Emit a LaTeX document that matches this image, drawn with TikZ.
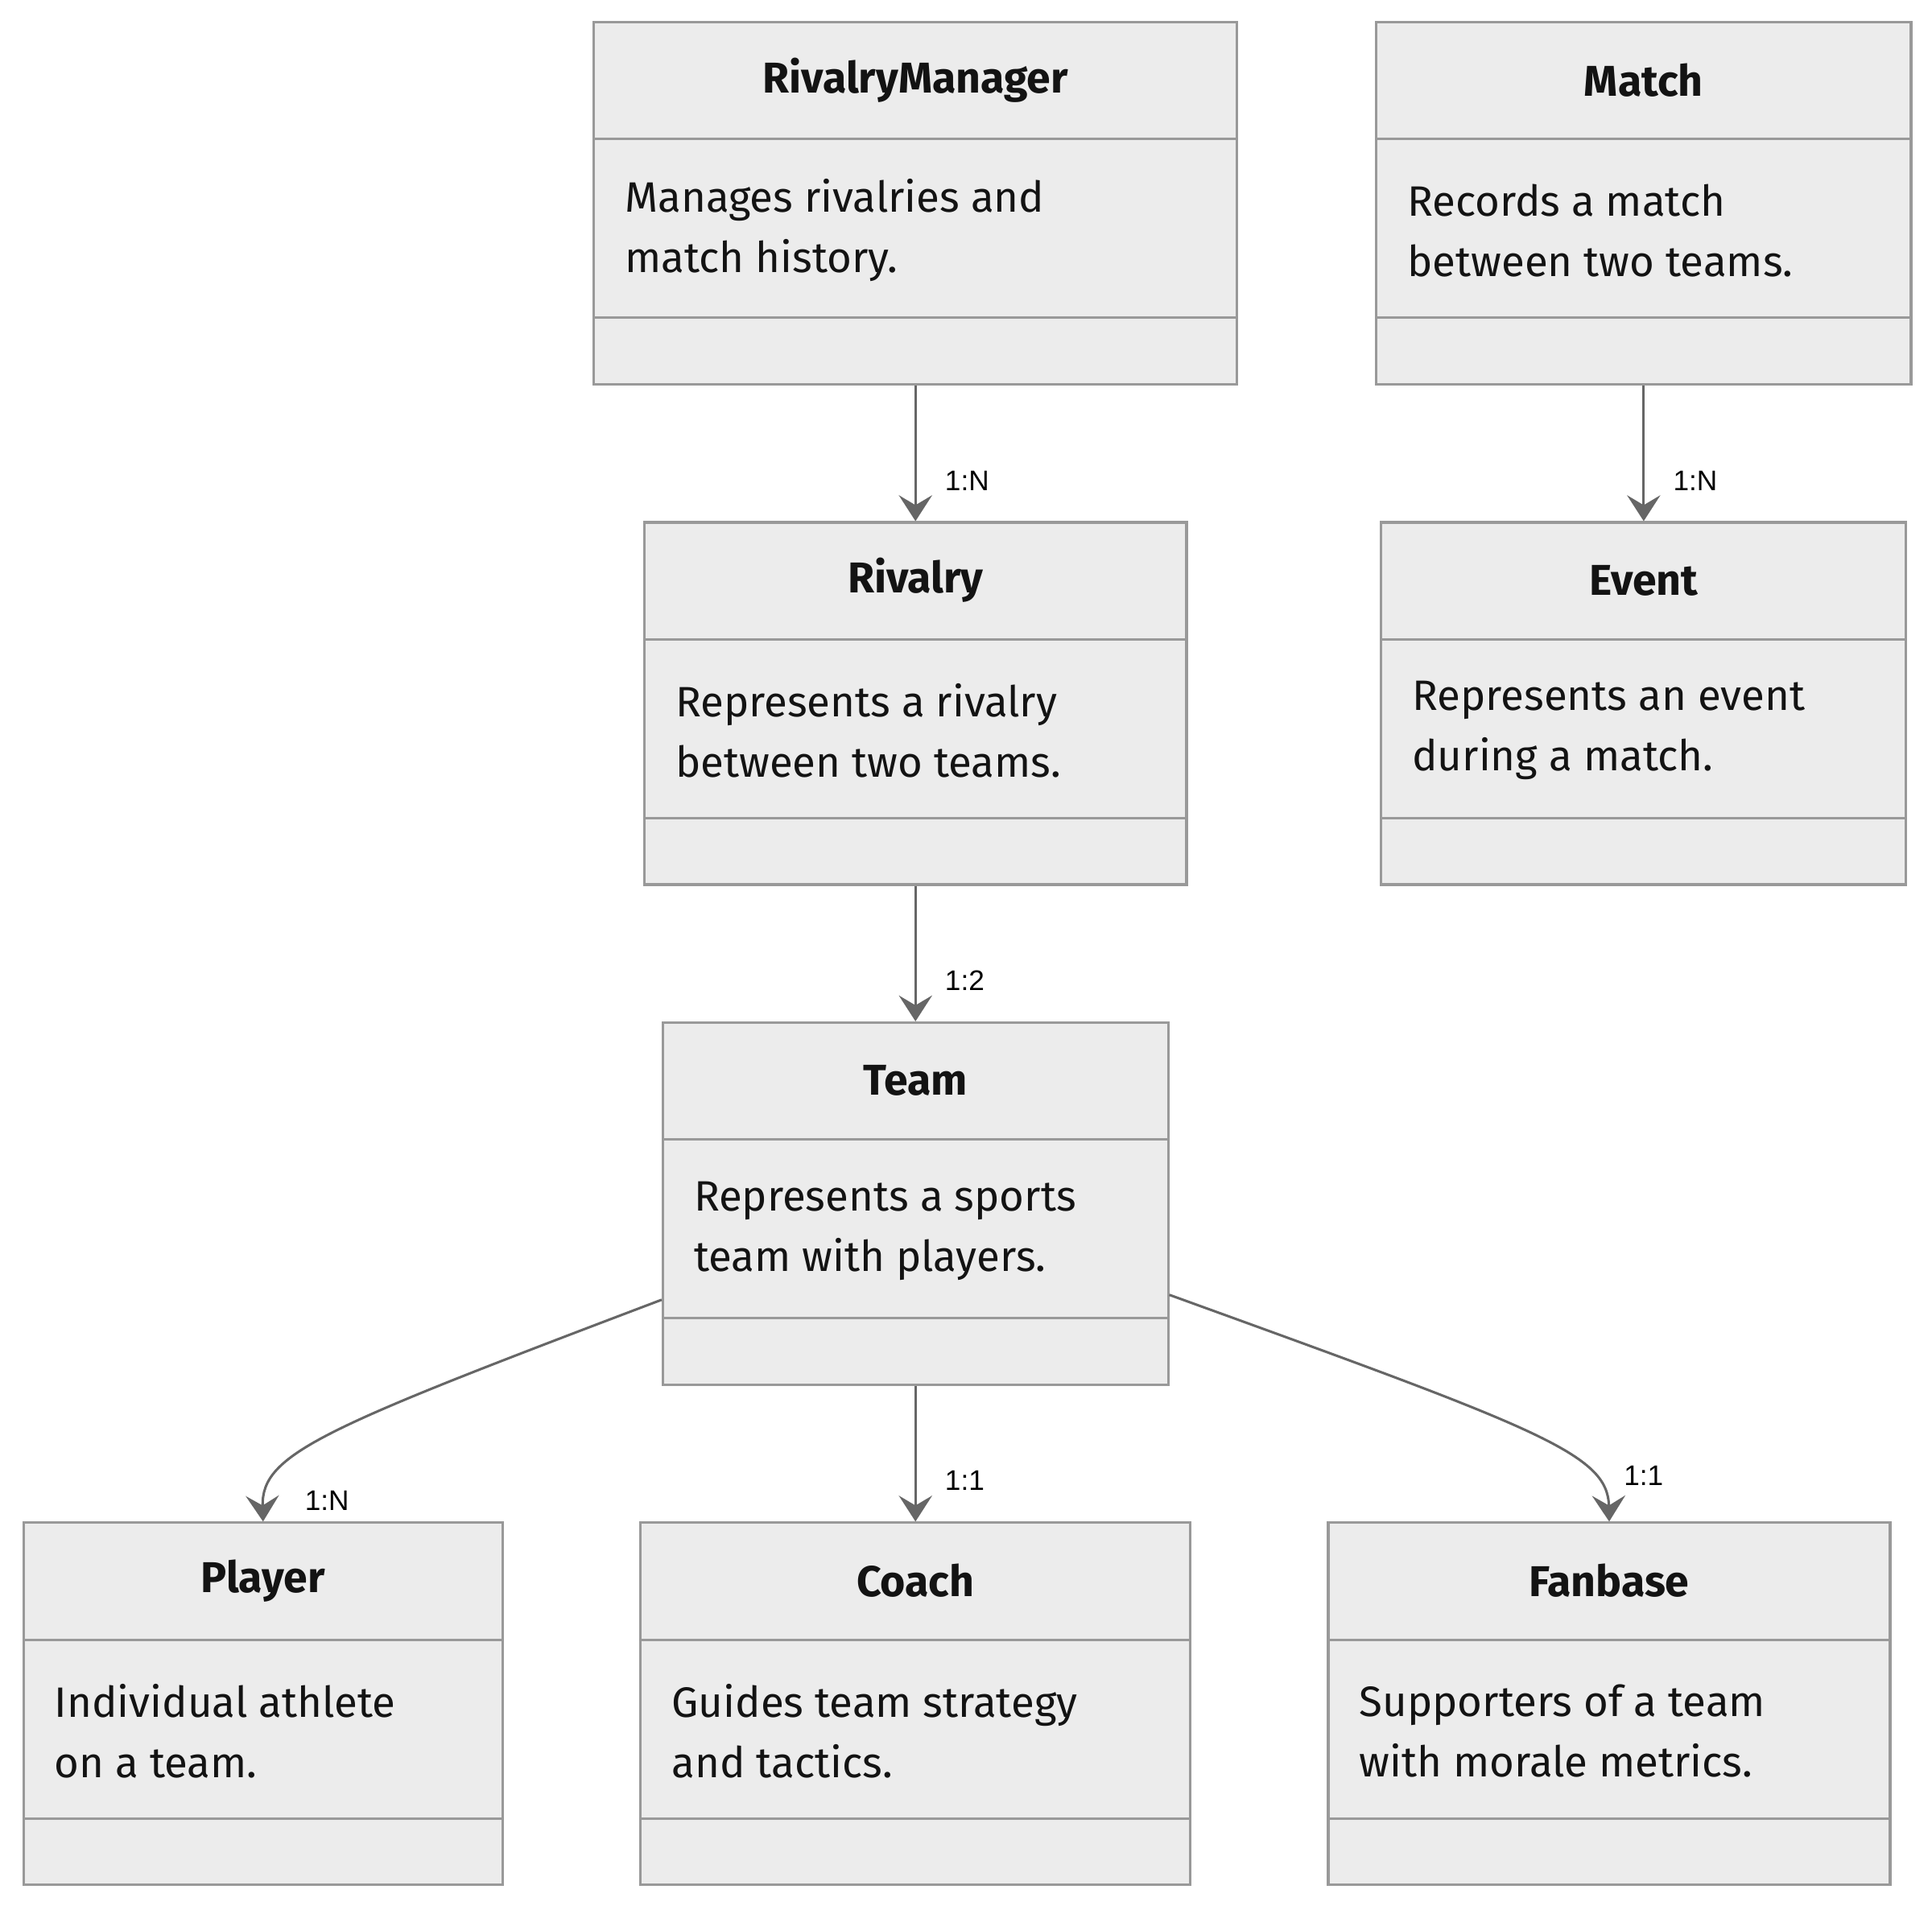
\documentclass[tikz,border=0pt]{standalone}
\usepackage{fontspec}
\setmainfont{Fira Sans}
\newfontfamily\labelfont{Liberation Sans}
\usetikzlibrary{arrows.meta}
\usetikzlibrary{positioning}
\definecolor{boxfill}{RGB}{236,236,236}
\definecolor{boxline}{RGB}{153,153,153}
\definecolor{edgegray}{RGB}{102,102,102}
\definecolor{inkblack}{RGB}{19,19,19}

\tikzset{
  classbox/.style={draw=boxline, fill=boxfill, line width=2pt, minimum height=294pt, inner sep=0pt, anchor=north west},
  classline/.style={draw=boxline, line width=2pt},
  classtitle/.style={font=\fontsize{35}{40}\selectfont\bfseries, text=inkblack, inner sep=0pt},
  classtext/.style={font=\fontsize{34.5}{49}\selectfont, text=inkblack, align=left, anchor=west, inner sep=0pt},
  assoc/.style={draw=edgegray, line width=2pt, -{Stealth[length=21pt,width=27pt,inset=8pt]}},
  mult/.style={font=\labelfont\fontsize{23}{26}\selectfont, text=black, inner sep=0pt, anchor=west}
}

% box with title, text and an empty bottom part
\newcommand{\classnode}[6]{%
  \node[classbox, minimum width=#4pt] (#1) at (#2,#3) {};
  \draw[classline] (#1.north west) ++(0,96) -- ++(#4,0);
  \draw[classline] (#1.north west) ++(0,241) -- ++(#4,0);
  \node[classtitle] (#1-title) at ([yshift=-48pt]#1.north) {#5};
  \node[classtext] (#1-text) at ([xshift=26pt,yshift=-170pt]#1.north west) {#6};
}

\begin{document}
\begin{tikzpicture}[x=1pt, y=-1pt]
  \useasboundingbox (0,0) rectangle (1568,1547);

  % top row
  \classnode{rm}{481}{17}{522}{RivalryManager}{Manages rivalries and\\match history.}
  \classnode{match}{1116}{17}{434}{Match}{Records a match\\between two teams.}
  % second row
  \classnode{rivalry}{522}{423}{440}{Rivalry}{Represents a rivalry\\between two teams.}
  \classnode{event}{1120}{423}{426}{Event}{Represents an event\\during a match.}
  % team
  \classnode{team}{537}{829}{410}{Team}{Represents a sports\\team with players.}
  % bottom row
  \classnode{player}{18}{1235}{389}{Player}{Individual athlete\\on a team.}
  \classnode{coach}{519}{1235}{446}{Coach}{Guides team strategy\\and tactics.}
  \classnode{fanbase}{1077}{1235}{456}{Fanbase}{Supporters of a team\\with morale metrics.}

  % relations
  \draw[assoc] (rm.south) -- (rivalry.north) node[mult, pos=0.7, xshift=23pt] (rm-rivalry) {1:N};
  \draw[assoc] (match.south) -- (event.north) node[mult, pos=0.7, xshift=23pt] (match-event) {1:N};
  \draw[assoc] (rivalry.south) -- (team.north) node[mult, pos=0.7, xshift=23pt] (rivalry-team) {1:2};
  \draw[assoc] (team.south) -- (coach.north) node[mult, pos=0.7, xshift=23pt] (team-coach) {1:1};
  \draw[assoc] ([yshift=-226pt]team.north west) .. controls (260,1160) and (212,1180) .. (player.north)
    node[mult, pos=1, xshift=33pt, yshift=17pt] (team-player) {1:N};
  \draw[assoc] ([yshift=-222pt]team.north east) .. controls (1250,1160) and (1305,1180) .. (fanbase.north)
    node[mult, pos=1, xshift=11pt, yshift=37pt] (team-fanbase) {1:1};
\end{tikzpicture}
\end{document}
